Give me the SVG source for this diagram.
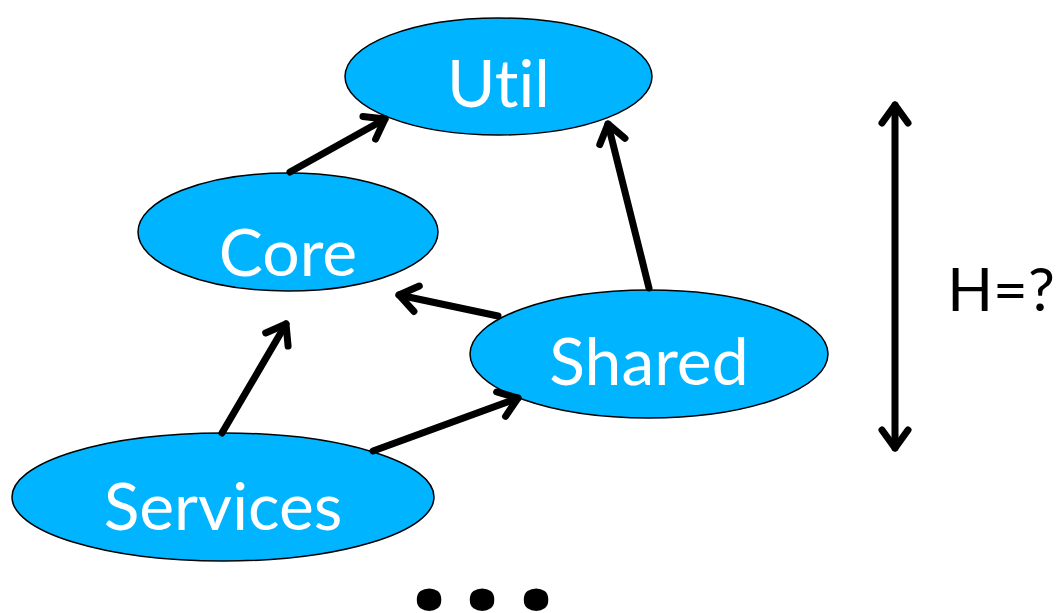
<svg xmlns="http://www.w3.org/2000/svg" width="1062" height="613" viewBox="0 0 1062 613">
<style>
.node{fill:#00B4FF;stroke:#000;stroke-width:1.5}
.lbl{font-family:Lato,"Open Sans",sans-serif;font-size:66px;fill:#fff;text-anchor:middle;font-variant-ligatures:none;font-feature-settings:"liga" 0}
.edge{stroke:#000;stroke-width:7;fill:none;stroke-linecap:round}
</style>
<defs>
<marker id="ah" viewBox="0 0 30 30" refX="24" refY="15" markerWidth="30" markerHeight="30" markerUnits="userSpaceOnUse" orient="auto-start-reverse" overflow="visible">
<path d="M6,2 L24,15 L6,28" fill="none" stroke="#000" stroke-width="7" stroke-linecap="round" stroke-linejoin="round"/>
</marker>
</defs>
<rect width="1062" height="613" fill="#fff"/>
<g id="util"><ellipse class="node" cx="498.5" cy="76.5" rx="153.5" ry="58.5"/><text class="lbl" x="498.5" y="107">Util</text></g>
<g id="core"><ellipse class="node" cx="288" cy="232" rx="150" ry="59"/><text class="lbl" x="288" y="276">Core</text></g>
<g id="shared"><ellipse class="node" cx="649" cy="354" rx="179" ry="64"/><text class="lbl" x="649" y="385">Shared</text></g>
<g id="services"><ellipse class="node" cx="223" cy="497" rx="211" ry="64"/><text class="lbl" x="223" y="530">Services</text></g>
<g id="connectors">
<line class="edge" x1="290" y1="172" x2="385" y2="119" marker-end="url(#ah)"/>
<line class="edge" x1="649" y1="288" x2="608" y2="124" marker-end="url(#ah)"/>
<line class="edge" x1="498" y1="316" x2="399" y2="295" marker-end="url(#ah)"/>
<line class="edge" x1="222" y1="433" x2="286" y2="324" marker-end="url(#ah)"/>
<line class="edge" x1="373" y1="451" x2="518" y2="398" marker-end="url(#ah)"/>
<line class="edge" x1="895" y1="105" x2="895" y2="448" marker-start="url(#ah)" marker-end="url(#ah)"/>
</g>
<text x="1001" y="311" font-family="Lato,'Open Sans',sans-serif" font-size="60" fill="#000" text-anchor="middle">H=?</text>
<text x="429 482 536" y="610" font-family="'Open Sans',sans-serif" font-weight="800" font-size="120" fill="#000" text-anchor="middle">...</text>
</svg>
